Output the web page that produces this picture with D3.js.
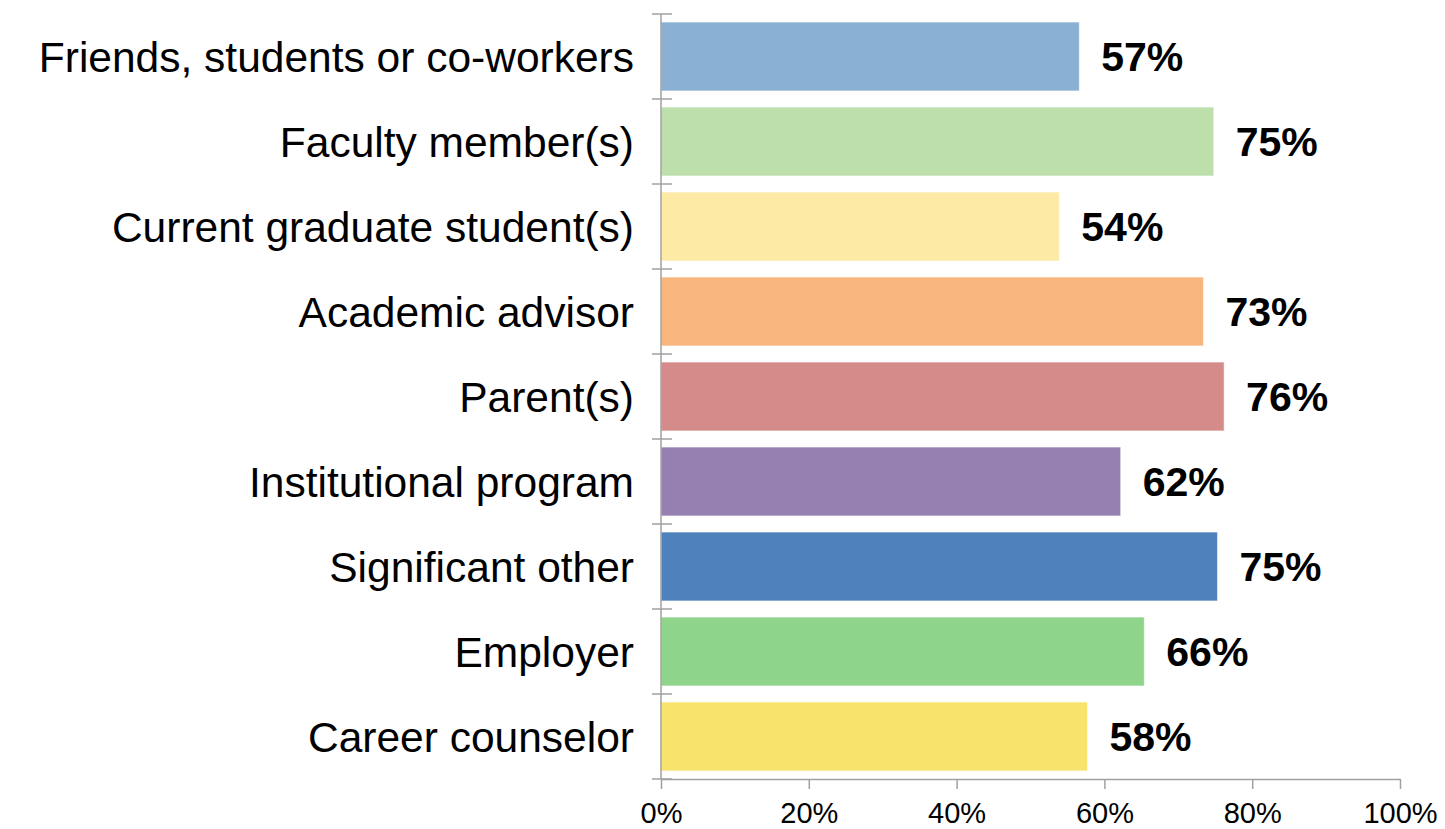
<!DOCTYPE html>
<html>
<head>
<meta charset="utf-8">
<script src="https://cdn.jsdelivr.net/npm/d3@7"></script>
<style>
  body { margin: 0; background: #fff; }
  svg { display: block; }
  text { font-family: Arial, "Liberation Sans", sans-serif; }
</style>
</head>
<body>
<svg id="chart"></svg>
<script>
// chart data
var categories = [
  "Friends, students or co-workers",
  "Faculty member(s)",
  "Current graduate student(s)",
  "Academic advisor",
  "Parent(s)",
  "Institutional program",
  "Significant other",
  "Employer",
  "Career counselor"
];
var values = [56.6, 74.8, 53.9, 73.4, 76.2, 62.2, 75.3, 65.4, 57.7];
var valueLabels = ["57%", "75%", "54%", "73%", "76%", "62%", "75%", "66%", "58%"];
var barColors = ["#8AB0D3", "#BCDFAB", "#FDEBA5", "#F8B57D", "#D58B89", "#9580B1", "#4F81BC", "#8ED48B", "#F8E36D"];
var xTicks = [0, 20, 40, 60, 80, 100];

var width = 1445, height = 829;
var margin = { left: 661, right: 45, top: 14, bottom: 50 };

var svg = d3.select("#chart")
  .attr("width", width)
  .attr("height", height);

var x = d3.scaleLinear()
  .domain([0, 100])
  .range([margin.left, width - margin.right]);

var y = d3.scaleBand()
  .domain(categories)
  .range([margin.top, height - margin.bottom])
  .paddingInner(0.19)
  .paddingOuter(0.095);

var axisColor = "#a0a0a0";

// bars
svg.selectAll("rect.bar")
  .data(categories)
  .enter().append("rect")
  .attr("class", "bar")
  .attr("x", x(0))
  .attr("y", d => y(d))
  .attr("width", (d, i) => x(values[i]) - x(0))
  .attr("height", y.bandwidth())
  .attr("fill", (d, i) => barColors[i])
  .attr("stroke", "#ffffff")
  .attr("stroke-opacity", 0.5)
  .attr("stroke-width", 1);

// value labels
svg.selectAll("text.val")
  .data(categories)
  .enter().append("text")
  .attr("class", "val")
  .attr("x", (d, i) => x(values[i]) + 22)
  .attr("y", d => y(d) + y.bandwidth() / 2)
  .attr("dy", "0.36em")
  .attr("font-size", 41)
  .attr("font-weight", "bold")
  .attr("fill", "#000")
  .text((d, i) => valueLabels[i]);

// y axis (ticks between categories, crossing the line)
var yTickPos = categories.map(d => y(d) - y.step() * y.paddingInner() / 2);
yTickPos.push(height - margin.bottom);
svg.append("line")
  .attr("x1", x(0)).attr("x2", x(0))
  .attr("y1", margin.top).attr("y2", height - margin.bottom)
  .attr("stroke", axisColor).attr("stroke-width", 1.5);
svg.selectAll("line.ytick")
  .data(yTickPos)
  .enter().append("line")
  .attr("class", "ytick")
  .attr("x1", x(0) - 9).attr("x2", x(0) + 11)
  .attr("y1", d => d).attr("y2", d => d)
  .attr("stroke", axisColor).attr("stroke-width", 1.5);

// category labels
svg.selectAll("text.cat")
  .data(categories)
  .enter().append("text")
  .attr("class", "cat")
  .attr("x", x(0) - 27)
  .attr("y", d => y(d) + y.bandwidth() / 2)
  .attr("dy", "0.36em")
  .attr("text-anchor", "end")
  .attr("font-size", 42.5)
  .attr("fill", "#000")
  .text(d => d);

// x axis
var xAxis = d3.axisBottom(x)
  .tickValues(xTicks)
  .tickFormat(d => d + "%")
  .tickSizeInner(10)
  .tickSizeOuter(0)
  .tickPadding(13);

var gx = svg.append("g")
  .attr("transform", "translate(0," + (height - margin.bottom) + ")")
  .call(xAxis);
gx.select(".domain").attr("stroke", axisColor).attr("stroke-width", 1.5);
gx.selectAll(".tick line").attr("stroke", axisColor).attr("stroke-width", 1.5);
gx.selectAll(".tick text")
  .attr("font-size", 29)
  .attr("font-family", "Arial, 'Liberation Sans', sans-serif")
  .attr("fill", "#000");
</script>
</body>
</html>
